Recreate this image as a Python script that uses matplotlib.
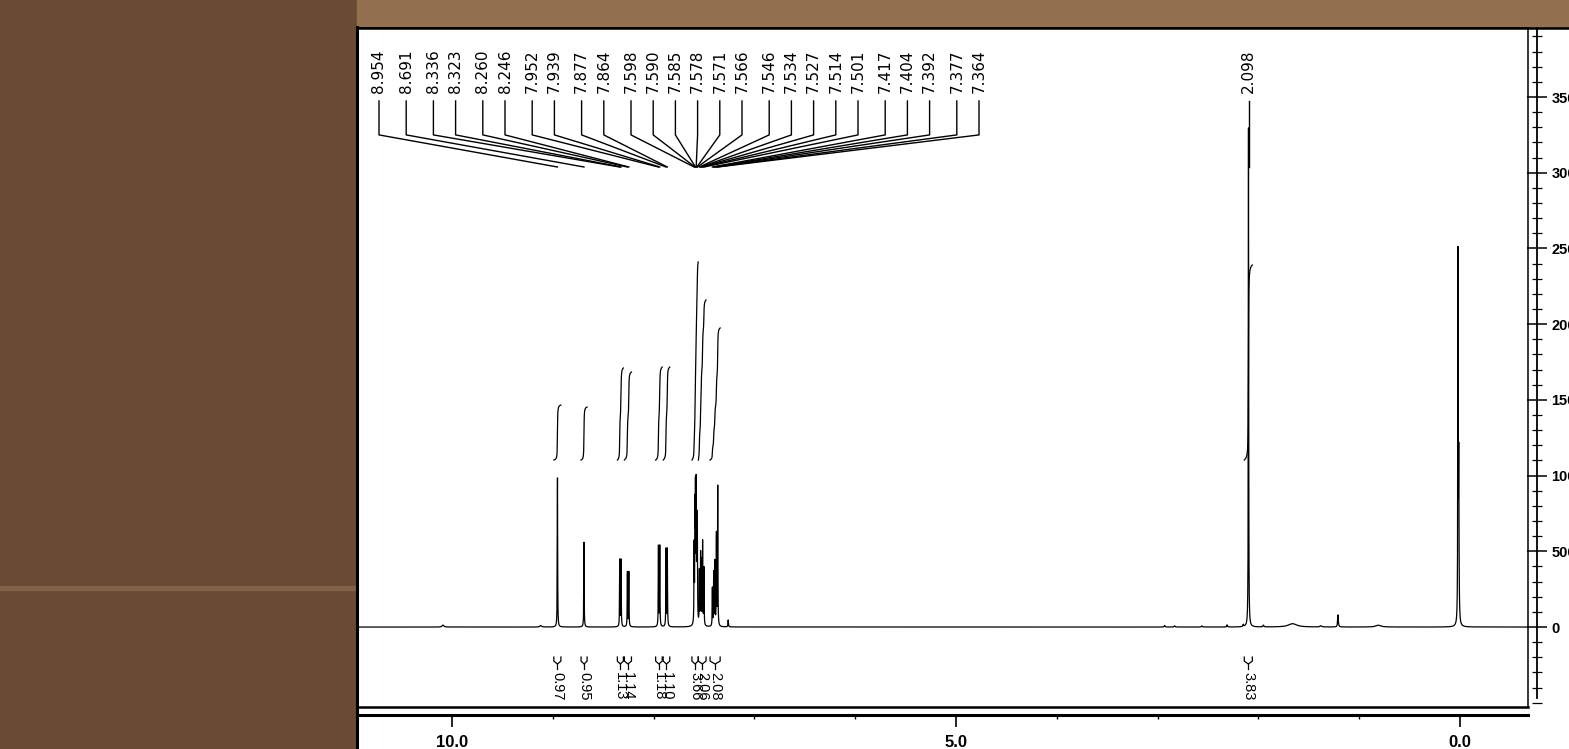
import numpy as np
import matplotlib.pyplot as plt
from matplotlib.patches import Rectangle
from matplotlib.lines import Line2D
from matplotlib.ticker import FixedLocator, MultipleLocator

W, H = 1569, 749

# labelled lines (ppm) and their heights
peak_ppm = [8.954, 8.691, 8.336, 8.323, 8.260, 8.246, 7.952, 7.939, 7.877, 7.864,
            7.598, 7.590, 7.585, 7.578, 7.571, 7.566, 7.546, 7.534, 7.527, 7.514,
            7.501, 7.417, 7.404, 7.392, 7.377, 7.364, 2.098]
peak_height = [985, 560, 440, 440, 360, 360, 530, 530, 510, 510,
               500, 700, 800, 860, 600, 550, 350, 450, 400, 550,
               380, 250, 350, 420, 600, 920, 3300]

# unlabelled small lines (solvent, impurities, TMS)
other_ppm = [10.09, 9.12, 7.26, 2.93, 2.83, 2.56, 2.31, 2.15, 1.95, 1.66, 1.38, 1.21, 0.81, 0.02, 0.012]
other_height = [13, 10, 46, 10, 8, 8, 14, 14, 12, 22, 8, 80, 12, 2380, 1080]
other_width = [0.01, 0.01, 0.003, 0.005, 0.005, 0.005, 0.004, 0.004, 0.005, 0.05, 0.01, 0.004, 0.03, 0.002, 0.003]

# integral regions
int_from = [8.99, 8.72, 8.36, 8.29, 7.98, 7.905, 7.62, 7.556, 7.44, 2.14]
int_to = [8.92, 8.66, 8.30, 8.22, 7.915, 7.84, 7.558, 7.48, 7.34, 2.06]
int_top = [1466, 1453, 1711, 1684, 1717, 1717, 2411, 2160, 1975, 2391]
int_label = ['0.97', '0.95', '1.13', '1.14', '1.18', '1.10', '3.66', '2.06', '2.08', '3.83']
int_base = 1103

x_left, x_right = 10.943, -0.675
y_bot, y_top = -528, 3956
px_ppm = (1528 - 357) / (x_left - x_right)

# build the trace
ppm = np.linspace(x_right, x_left, 60000)
spec = np.zeros_like(ppm)
for p, h in zip(peak_ppm, peak_height):
    spec += h / (1 + ((ppm - p) / 0.002) ** 2)
for p, h, w in zip(other_ppm, other_height, other_width):
    spec += h / (1 + ((ppm - p) / w) ** 2)

fig = plt.figure(figsize=(W / 100, H / 100), dpi=100)
fig.patch.set_facecolor('#6b4a33')

# wood frame bits + white panel
fig.patches.append(Rectangle((357 / W, 1 - 28 / H), 1, 28 / H, transform=fig.transFigure,
                             color='#93704f', zorder=-10))
fig.patches.append(Rectangle((0, 1 - 590 / H), 357 / W, 4 / H, transform=fig.transFigure,
                             color='#84624a', zorder=-10))
fig.patches.append(Rectangle((356 / W, 0), 1, 1 - 28 / H, transform=fig.transFigure,
                             facecolor='white', edgecolor='none', zorder=-10))
fig.lines.append(Line2D([357 / W, 357 / W], [0, 1 - 27 / H], transform=fig.transFigure,
                        color='black', lw=2.2, zorder=5))
fig.lines.append(Line2D([357 / W, 1], [1 - 28 / H, 1 - 28 / H], transform=fig.transFigure,
                        color='black', lw=1.8, zorder=5))

ax = fig.add_axes([357 / W, 1 - 707 / H, (1528 - 357) / W, (707 - 28) / H])
ax.set_facecolor('none')
ax.set_xlim(x_left, x_right)
ax.set_ylim(y_bot, y_top)
ax.set_xticks([])
ax.set_yticks([])
for s in ax.spines.values():
    s.set_linewidth(1.1)
ax.spines['bottom'].set_linewidth(1.8)

ax.plot(ppm, spec, color='black', lw=0.9)

# integrals
for a, b, top, lab in zip(int_from, int_to, int_top, int_label):
    m = (ppm <= a) & (ppm >= b)
    c = np.cumsum(spec[m][::-1])[::-1]
    c = (c - c.min()) / (c.max() - c.min())
    ax.plot(ppm[m], int_base + c * (top - int_base), color='black', lw=0.9)
    mid = (a + b) / 2
    ax.plot([a, a, mid, b, b], [-198, -225, -244, -225, -198], color='black', lw=0.9)
    ax.plot([mid, mid], [-244, -277], color='black', lw=0.9)
    ax.text(mid, -295, lab, rotation=270, ha='center', va='top', fontsize=10.5,
            family='Liberation Sans')

# peak labels with leader lines
n_arom = len(peak_ppm) - 1
gaps = np.abs(np.diff(peak_ppm[:n_arom]))
steps = 22.2 + 5 * (gaps > 0.015)
lab_px = 379 + np.concatenate([[0], np.cumsum(steps)])
lab_ppm = list(x_left - (lab_px - 357) / px_ppm) + [peak_ppm[-1]]
for lx, p in zip(lab_ppm, peak_ppm):
    ax.text(lx, 3527, f'{p:.3f}', rotation=90, ha='center', va='bottom',
            fontsize=11, family='DejaVu Sans')
    ax.plot([lx, lx, p], [3474, 3250, 3038], color='black', lw=1.0)

# ppm axis below the box
sec = ax.secondary_xaxis(-8 / 679)
sec.xaxis.set_major_locator(FixedLocator([10, 5, 0]))
sec.xaxis.set_minor_locator(FixedLocator([9, 8, 7, 6, 4, 3, 2, 1]))
sec.xaxis.set_major_formatter('{x:.1f}')
sec.spines['bottom'].set_linewidth(2.2)
sec.tick_params(which='major', direction='out', length=8.5, width=1.2, pad=6, labelsize=12)
sec.tick_params(which='minor', direction='out', length=3, width=1.0)
for t in sec.get_xticklabels():
    t.set_fontweight('bold')
    t.set_family('Liberation Sans')

# intensity axis on the right
ax2 = ax.twinx()
ax2.set_ylim(y_bot, y_top)
for k in ['left', 'top', 'bottom']:
    ax2.spines[k].set_visible(False)
ax2.spines['right'].set_position(('outward', 6.5))
ax2.spines['right'].set_linewidth(1.3)
ax2.spines['right'].set_bounds(-470, y_top)
ax2.yaxis.set_major_locator(FixedLocator(np.arange(0, 3501, 500)))
ax2.yaxis.set_minor_locator(MultipleLocator(100))
ax2.tick_params(which='major', direction='inout', length=14, width=1.1, pad=3.5, labelsize=10.5)
ax2.tick_params(which='minor', direction='inout', length=7, width=0.9)
for t in ax2.get_yticklabels():
    t.set_family('Liberation Sans')
    t.set_fontweight('bold')

fig.savefig('out.png', dpi=100, facecolor=fig.get_facecolor())
